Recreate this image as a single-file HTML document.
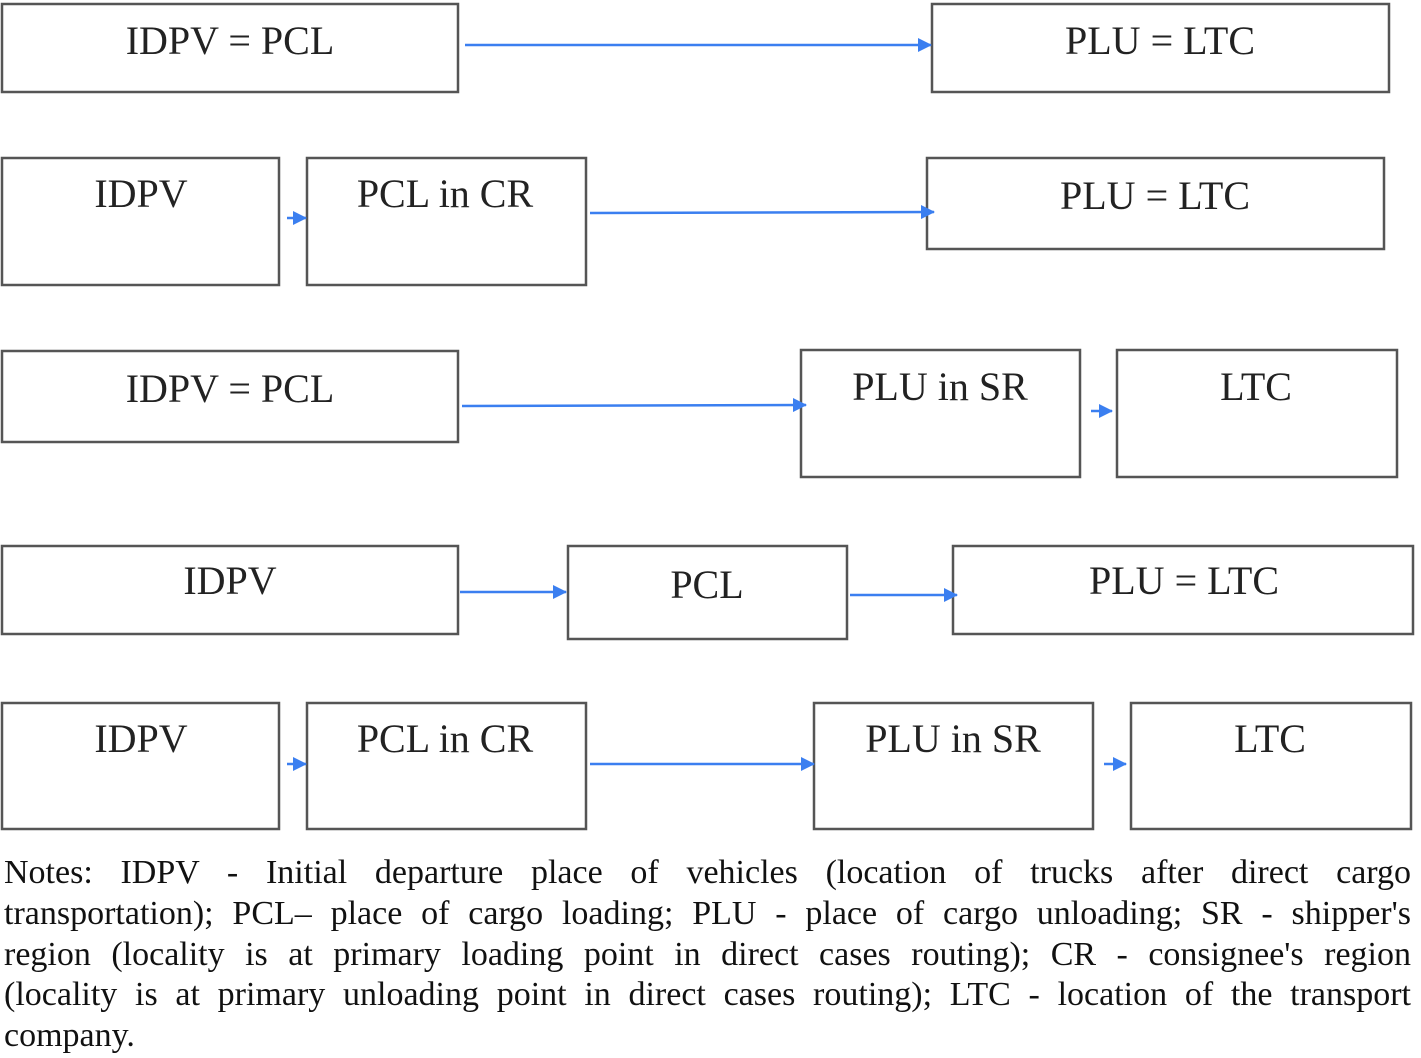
<!DOCTYPE html>
<html><head><style>
body{margin:0;background:#fff;width:1421px;height:1058px;overflow:hidden;position:relative}
svg{position:absolute;left:0;top:0}
.n{position:absolute;left:4px;top:853px;width:1407px;font-family:"Liberation Serif",serif;font-size:34px;line-height:40.8px;color:#111}
.n div{text-align:justify;text-align-last:justify;white-space:nowrap;height:40.8px}
.n div.l{text-align-last:left}
</style></head><body>
<svg width="1421" height="850" font-family="Liberation Serif, serif" font-size="40" fill="#222">
<defs><marker id="a" markerWidth="14" markerHeight="14" refX="13" refY="7" orient="auto" markerUnits="userSpaceOnUse"><path d="M0,0 L14,7 L0,14 z" fill="#3b7ff0"/></marker></defs>
<g fill="none" stroke="#555" stroke-width="2.5">
<rect x="2" y="4" width="456" height="88"/><rect x="932" y="4" width="457" height="88"/>
<rect x="2" y="158" width="277" height="127"/><rect x="307" y="158" width="279" height="127"/><rect x="927" y="158" width="457" height="91"/>
<rect x="2" y="351" width="456" height="91"/><rect x="801" y="350" width="279" height="127"/><rect x="1117" y="350" width="280" height="127"/>
<rect x="2" y="546" width="456" height="88"/><rect x="568" y="546" width="279" height="93"/><rect x="953" y="546" width="460" height="88"/>
<rect x="2" y="703" width="277" height="126"/><rect x="307" y="703" width="279" height="126"/><rect x="814" y="703" width="279" height="126"/><rect x="1131" y="703" width="280" height="126"/>
</g>
<g stroke="#3b7ff0" stroke-width="2.5" marker-end="url(#a)">
<line x1="465" y1="45" x2="931" y2="45"/>
<line x1="287" y1="218" x2="306" y2="218"/><line x1="590" y1="213" x2="934" y2="212"/>
<line x1="462" y1="406" x2="806" y2="405"/><line x1="1091" y1="411" x2="1112" y2="411"/>
<line x1="460" y1="592" x2="566" y2="592"/><line x1="850" y1="595" x2="957" y2="595"/>
<line x1="287" y1="764" x2="306" y2="764"/><line x1="590" y1="764" x2="814" y2="764"/><line x1="1104" y1="764" x2="1126" y2="764"/>
</g>
<g text-anchor="middle">
<text x="230" y="54">IDPV = PCL</text><text x="1160" y="54">PLU = LTC</text>
<text x="141" y="207">IDPV</text><text x="445" y="207">PCL in CR</text><text x="1155" y="209">PLU = LTC</text>
<text x="230" y="402">IDPV = PCL</text><text x="940" y="400">PLU in SR</text><text x="1256" y="400">LTC</text>
<text x="230" y="594">IDPV</text><text x="707" y="598">PCL</text><text x="1184" y="594">PLU = LTC</text>
<text x="141" y="752">IDPV</text><text x="445" y="752">PCL in CR</text><text x="953" y="752">PLU in SR</text><text x="1270" y="752">LTC</text>
</g>
</svg>
<div class="n">
<div>Notes: IDPV - Initial departure place of vehicles (location of trucks after direct cargo</div>
<div>transportation); PCL– place of cargo loading; PLU - place of cargo unloading; SR - shipper's</div>
<div>region (locality is at primary loading point in direct cases routing); CR - consignee's region</div>
<div>(locality is at primary unloading point in direct cases routing); LTC - location of the transport</div>
<div class="l">company.</div>
</div>
</body></html>
